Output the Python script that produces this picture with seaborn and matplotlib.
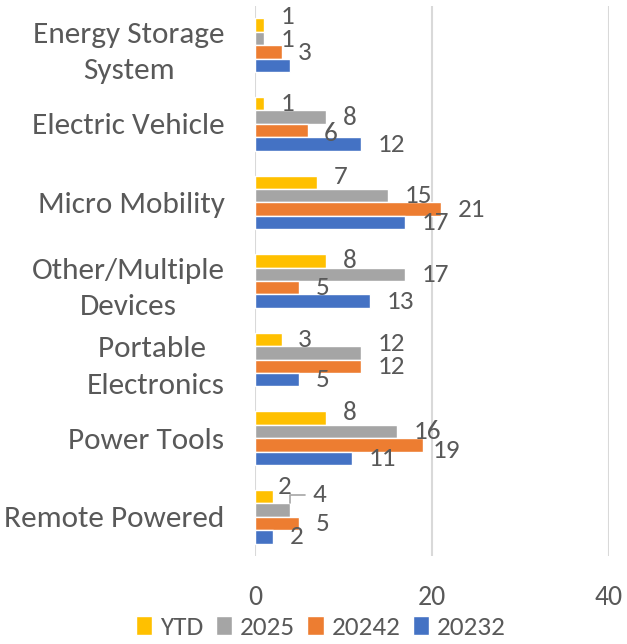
import seaborn as sns
import pandas as pd
import matplotlib.pyplot as plt

categories = ["Energy Storage\nSystem", "Electric Vehicle", "Micro Mobility",
              "Other/Multiple\nDevices", "Portable \nElectronics", "Power Tools",
              "Remote Powered"]
series = ["YTD", "2025", "20242", "20232"]
ytd = [1, 1, 7, 8, 3, 8, 2]
y2025 = [1, 8, 15, 17, 12, 16, 4]
y2024 = [3, 6, 21, 5, 12, 19, 5]
y2023 = [4, 12, 17, 13, 5, 11, 2]
colors = ["#FFC000", "#A5A5A5", "#ED7D31", "#4472C4"]

rows = []
for name, vals in zip(series, [ytd, y2025, y2024, y2023]):
    for cat, v in zip(categories, vals):
        rows.append({"category": cat, "series": name, "value": v})
df = pd.DataFrame(rows)

sns.set_style("white")
plt.rcParams['font.family'] = ['Carlito', 'Lato', 'DejaVu Sans']
txt = "#595959"

fig = plt.figure(figsize=(6.27, 6.44), dpi=100)
ax = fig.add_axes([0.4067, 0.1366, 0.5646, 0.8541])

sns.barplot(data=df, y="category", x="value", hue="series", hue_order=series,
            palette=colors, orient="h", width=0.685, ax=ax, saturation=1,
            legend=True)

# label nudges (points) where the original moved labels to avoid overlap
nudges = {(0, 0): (12, 6), (1, 0): (12, -1), (0, 2): (12, 4), (0, 6): (4, 7),
          (1, 4): (12, 7), (0, 5): (12, 4), (2, 5): (7, -4), (2, 1): (11, -2)}
for i, cont in enumerate(ax.containers):
    labels = [str(int(v)) for v in cont.datavalues]
    if i == 3:
        labels[0] = ""  # label not shown in the original
    if i == 1:
        labels[6] = ""  # drawn below with a leader line
    anns = ax.bar_label(cont, labels=labels, padding=12, fontsize=19.5, color=txt)
    for j, a in enumerate(anns):
        if (i, j) in nudges:
            a.xyann = nudges[(i, j)]

# Remote Powered / 2025 label with leader line
p = ax.containers[1].patches[6]
ax.annotate(str(y2025[6]), xy=(p.get_width(), p.get_y()), xytext=(16, 6),
            textcoords="offset points", ha="left", va="center", fontsize=19.5,
            color=txt,
            arrowprops=dict(arrowstyle="-", color="#A5A5A5", lw=1.2,
                            connectionstyle="angle,angleA=0,angleB=90,rad=0",
                            shrinkA=3, shrinkB=0))

ax.set_xlim(0, 40)
ax.set_xticks([0, 20, 40])
ax.set_ylim(6.5, -0.5)
ax.grid(axis="x", color="#D9D9D9", linewidth=1.5)
ax.set_axisbelow(True)
for s in ax.spines.values():
    s.set_visible(False)
ax.set_xlabel("")
ax.set_ylabel("")
ax.tick_params(axis="x", length=0, pad=21, labelsize=20, labelcolor=txt)
ax.tick_params(axis="y", length=0, pad=22, labelsize=22.5, labelcolor=txt)
for t in ax.get_yticklabels():
    t.set_multialignment("center")
    t.set_linespacing(1.5)

ax.legend(loc="center", bbox_to_anchor=(0.512, 0.025), bbox_transform=fig.transFigure,
          ncol=4, frameon=False, fontsize=19.5, labelcolor=txt,
          handlelength=0.6, handleheight=0.7, handletextpad=0.3, columnspacing=0.45,
          borderaxespad=0)

fig.savefig("out.png", dpi=100)
